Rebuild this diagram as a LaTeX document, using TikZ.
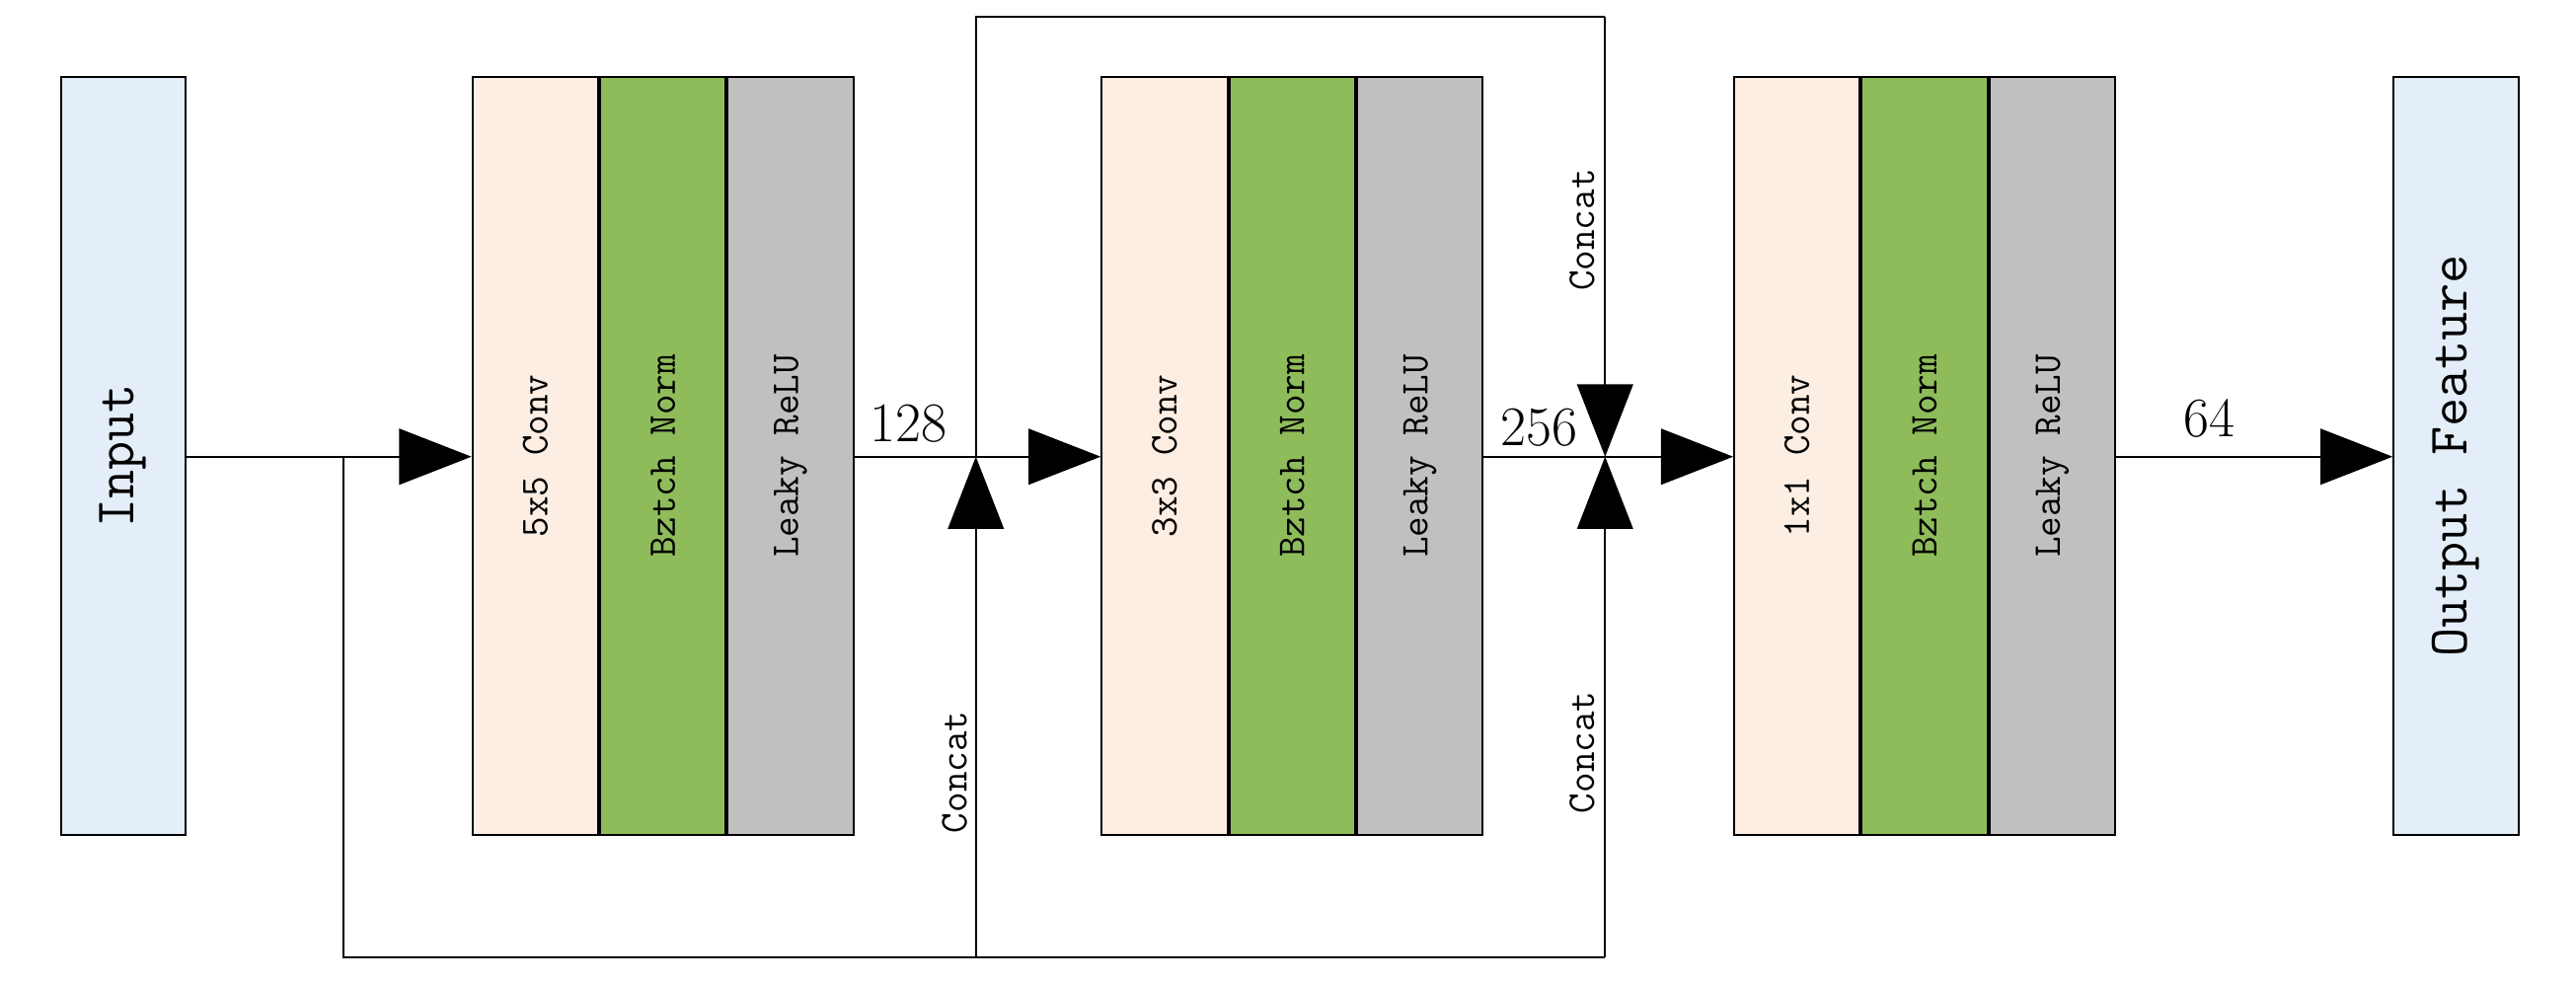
\documentclass[tikz,border=0pt]{standalone}
\usetikzlibrary{arrows.meta}
\definecolor{cin}{HTML}{E3EEF8}
\definecolor{cpe}{HTML}{FDEEE3}
\definecolor{cgr}{HTML}{8FBC5A}
\definecolor{cgy}{HTML}{C0C0C0}
\begin{document}
\begin{tikzpicture}[x=0.5pt,y=-0.5pt,
  box/.style={draw,line width=0.6pt,minimum width=38pt,minimum height=230.5pt,inner sep=0pt},
  col/.style={draw,line width=0.6pt,minimum width=38.25pt,minimum height=230.5pt,inner sep=0pt},
  lab/.style={rotate=90,font=\ttfamily\fontsize{12}{14}\selectfont},
  big/.style={rotate=90,font=\ttfamily\fontsize{17}{20}\selectfont},
  num/.style={font=\fontsize{17}{20}\selectfont},
  ln/.style={line width=0.6pt},
  arr/.style={ln,-{Triangle[length=22pt,width=17pt]}}]
\useasboundingbox (0,0) rectangle (1568,598);
\node[box,fill=cin] (in) at (75,277.5) {}; \node[big] at (in) {Input};
\node[box,fill=cin] (out) at (1495,277.5) {}; \node[big] at (out) {Output Feature};
\foreach \n/\x/\a in {a/287/5x5 Conv,b/670/3x3 Conv,c/1055/1x1 Conv}{
  \node[col,fill=cpe,anchor=west] (\n1) at (\x,277.5) {};
  \node[lab] at (\n1) {\a};
  \node[col,fill=cgr,anchor=west] (\n2) at (\n1.east) {};
  \node[lab] at (\n2) {Bztch Norm};
  \node[col,fill=cgy,anchor=west] (\n3) at (\n2.east) {};
  \node[lab] at (\n3) {Leaky ReLU};
}
\coordinate (s) at (209,278);
\coordinate (sb) at (209,583);
\coordinate (m) at (594,278);
\coordinate (mb) at (594,583);
\coordinate (mt) at (594,10);
\coordinate (r) at (977,278);
\coordinate (rb) at (977,583);
\coordinate (rt) at (977,10);
\draw[ln] (in.east |- s) -- (s);
\draw[arr] (s) -- (a1.west |- s);
\draw[ln] (s) -- (sb) -- (rb);
\draw[ln] (a3.east |- m) -- (m);
\draw[arr] (m) -- (b1.west |- m);
\draw[arr] (mb) -- (m);
\draw[ln] (m) -- (mt) -- (rt);
\draw[arr] (rt) -- (r);
\draw[arr] (rb) -- (r);
\draw[ln] (b3.east |- r) -- (r);
\draw[arr] (r) -- (c1.west |- r);
\draw[arr] (c3.east |- r) -- (out.west |- r);
\node[num] at (553,258) {128};
\node[num] at (937,260) {256};
\node[num] at (1345,255) {64};
\node[lab] at (581,470) {Concat};
\node[lab] at (963,458) {Concat};
\node[lab] at (963,140) {Concat};
\end{tikzpicture}
\end{document}
